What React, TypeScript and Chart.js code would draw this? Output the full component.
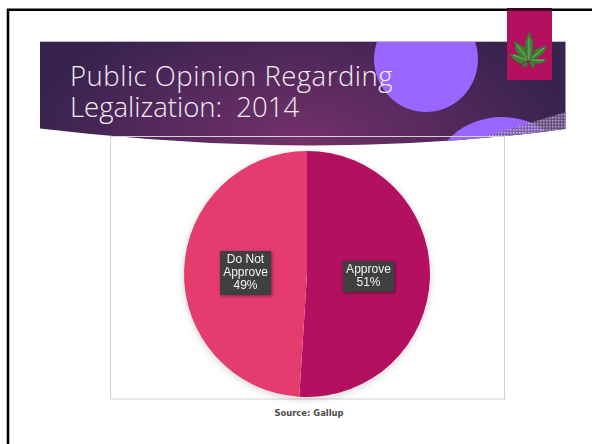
import React, { useEffect, useRef } from "react";
import { Chart, registerables, Plugin } from "chart.js";

Chart.register(...registerables);

const categories = ["Approve", "Do Not Approve"];
const labelLines = [["Approve"], ["Do Not", "Approve"]];
const shares = [51, 49];
const sliceColors = ["#B3105F", "#E53C6F"];

const titleLines = ["Public Opinion Regarding", "Legalization:  2014"];
const sourceNote = "Source: Gallup";

// Soft shadow under the whole pie, plus the dark dotted value tags on each slice.
const pieDecor: Plugin<"pie"> = {
  id: "pieDecor",
  beforeDatasetsDraw(chart) {
    const arc: any = chart.getDatasetMeta(0).data[0];
    const { ctx } = chart;
    ctx.save();
    ctx.shadowColor = "rgba(0,0,0,0.22)";
    ctx.shadowBlur = 9;
    ctx.shadowOffsetY = 2;
    ctx.fillStyle = "#fff";
    ctx.beginPath();
    ctx.arc(arc.x, arc.y, arc.outerRadius - 1, 0, Math.PI * 2);
    ctx.fill();
    ctx.restore();
  },
  afterDatasetsDraw(chart) {
    const { ctx } = chart;
    const lineHeight = 13;
    chart.getDatasetMeta(0).data.forEach((el: any, i) => {
      const pos = el.tooltipPosition();
      const lines = [...labelLines[i], `${shares[i]}%`];
      ctx.save();
      ctx.font = '12px "Liberation Sans", Arial, sans-serif';
      const textW = Math.max(...lines.map((l) => ctx.measureText(l).width));
      const w = Math.round(textW + 6);
      const h = Math.round(lines.length * lineHeight + 5);
      const x = Math.round(pos.x - w / 2);
      const y = Math.round(pos.y - h / 2 + 1);
      ctx.shadowColor = "rgba(0,0,0,0.45)";
      ctx.shadowBlur = 3;
      ctx.shadowOffsetX = 1;
      ctx.shadowOffsetY = 1;
      ctx.fillStyle = "#3F3F3F";
      ctx.fillRect(x, y, w, h);
      ctx.shadowColor = "transparent";
      ctx.fillStyle = "rgba(255,255,255,0.13)";
      for (let dy = 3; dy < h; dy += 7) {
        for (let dx = 3 + (Math.round(dy / 7) % 2) * 4; dx < w; dx += 8) {
          ctx.fillRect(x + dx, y + dy, 1, 1);
        }
      }
      ctx.fillStyle = "#F4F4F4";
      ctx.textAlign = "center";
      ctx.textBaseline = "middle";
      lines.forEach((l, n) => {
        ctx.fillText(l, pos.x, y + 2.5 + lineHeight * (n + 0.5));
      });
      ctx.restore();
    });
  },
};

export default function App() {
  const ref = useRef<HTMLCanvasElement>(null);

  useEffect(() => {
    document.body.style.margin = "0";
    const chart = new Chart(ref.current!, {
      type: "pie",
      data: {
        labels: categories,
        datasets: [{ data: shares, backgroundColor: sliceColors, borderWidth: 0 }],
      },
      options: {
        animation: false,
        responsive: false,
        layout: { padding: { left: 184, right: 162, top: 151, bottom: 47 } },
        plugins: { legend: { display: false }, tooltip: { enabled: false } },
      },
      plugins: [pieDecor],
    });
    return () => chart.destroy();
  }, []);

  return (
    <div style={{ position: "relative", width: 592, height: 444, overflow: "hidden", background: "#fff" }}>
      <svg width={592} height={444} style={{ position: "absolute", left: 0, top: 0 }}>
        <defs>
          <radialGradient id="bandFill" gradientUnits="userSpaceOnUse" cx={300} cy={140} r={270} gradientTransform="translate(0 70) scale(1 0.5)">
            <stop offset="0" stopColor="#733169" />
            <stop offset="0.55" stopColor="#54295C" />
            <stop offset="1" stopColor="#38234F" />
          </radialGradient>
          <clipPath id="bandClip">
            <path d="M40 41.5H565.5V129Q320 162 40 128.5Z" />
          </clipPath>
          <pattern id="weave" width={3} height={3} patternUnits="userSpaceOnUse">
            <rect width={3} height={3} fill="#75608F" />
            <rect width={1.5} height={1.5} fill="#D9CDEB" />
          </pattern>
        </defs>

        <g clipPath="url(#bandClip)">
          <rect x={40} y={41.5} width={526} height={110} fill="url(#bandFill)" />
          <ellipse cx={426} cy={59} rx={52} ry={53} fill="#9966FF" />
          <ellipse cx={502} cy={180} rx={70} ry={63} fill="#9966FF" />
          <path d="M440 150L566 112V150Z" fill="url(#weave)" opacity={0.75} />
        </g>
        <path d="M40 41.5H565.5" stroke="#BDB6C6" strokeWidth={1} />

        <path d="M8 9.7H592M8 8.5V444" stroke="#000" strokeWidth={2.6} fill="none" />

        <rect x={507} y={8} width={45} height={72} fill="#B3105F" />
        <rect x={507} y={8} width={45} height={3} fill="#3A0420" />
        <g fill="#3F8137" stroke="#2F6A2E" strokeWidth={0.5}>
          <path d="M529 32L533 42L532 60L526 60L525 43Z" />
          <path d="M514 41L525 48L528 60L522 58L516 51Z" />
          <path d="M547 46L536 49L530 60L538 57L544 52Z" />
          <path d="M509 54L518 55L528 60L521 64L514 60Z" />
          <path d="M547 60L537 59L529 60L534 64L542 63Z" />
          <path d="M521 67L527 61L527 66Z" />
          <path d="M533 69L529 61L535 63Z" />
        </g>
        <path d="M529 38V60M517 45L527 58M544 48L532 58M513 55L527 60M544 60L531 60" stroke="#7DB070" strokeWidth={1} fill="none" />

        <text fill="#F3EEF3" fontFamily="'Open Sans', sans-serif" fontWeight={300} fontSize={27.5} style={{ whiteSpace: "pre" }}>
          <tspan x={70} y={86} letterSpacing={0.5}>{titleLines[0]}</tspan>
          <tspan x={70} y={117}>{titleLines[1]}</tspan>
        </text>

        <rect x={110.5} y={136.5} width={394} height={262.5} fill="none" stroke="#D2D2D2" strokeWidth={1} />

        <text x={309} y={416} textAnchor="middle" fill="#4A4A4A" fontFamily="'DejaVu Sans', sans-serif" fontWeight={700} fontSize={8.4}>
          {sourceNote}
        </text>
      </svg>
      <canvas ref={ref} width={592} height={444} style={{ position: "absolute", left: 0, top: 0, display: "block" }} />
    </div>
  );
}
